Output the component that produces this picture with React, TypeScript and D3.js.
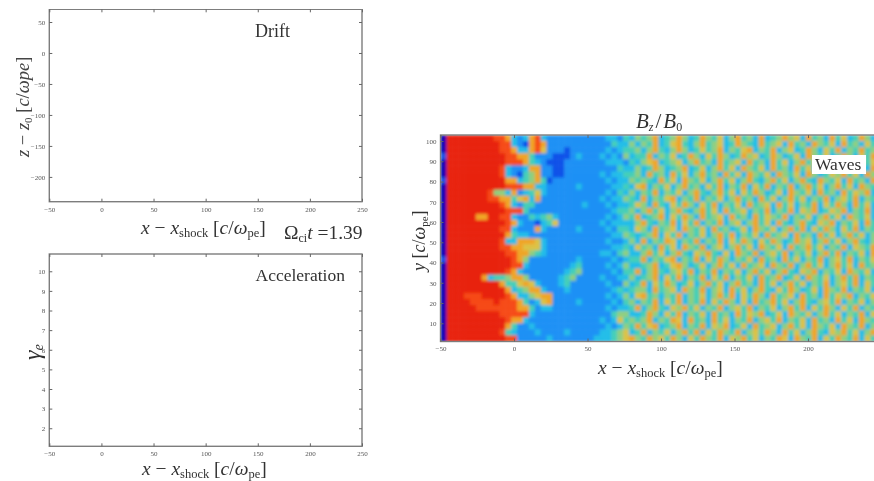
import React, { useEffect, useRef } from "react";
import * as d3 from "d3";

const width = 874;
const height = 481;

const xTicks = [-50, 0, 50, 100, 150, 200, 250];
const driftTicks = [50, 0, -50, -100, -150, -200];
const accelTicks = [10, 9, 8, 7, 6, 5, 4, 3, 2];
const waveXTicks = [-50, 0, 50, 100, 150, 200];
const waveYTicks = [100, 90, 80, 70, 60, 50, 40, 30, 20, 10];

const bzLeft = [
  "09999999988732378322222222",
  "09999999998832178722222222",
  "09999999998873378622212222",
  "19999999999887742221112322",
  "09999999999888743211122222",
  "09999999998322377221122222",
  "09999999998321457221122222",
  "19999999999773457412222222",
  "09999999999888773322222322",
  "09999999855372346322222222",
  "09999999887746737222222222",
  "09999999998732442222222232",
  "09999999999888422222222222",
  "09999977998832243453222222",
  "09999999999873221346222222",
  "09999999998832227322222322",
  "09999999999743322222222222",
  "09999999998337776322222222",
  "09999999998877666322222222",
  "09999999999887754322222222",
  "19999999999987522222222322",
  "09999999999988322222223422",
  "09999999999873222222234522",
  "09999997344577522222345222",
  "09999999997446763222342222",
  "09999999999734577322232222",
  "09998889999873356772222222",
  "09999888898887423672222322",
  "09999988888887742332222222",
  "09999999998888832222222222",
  "09999999999877322222222222",
  "09999999999742232222222222",
  "09999999998432223222232222",
  "09999999999882222232222222",
];
const bzRight = [
  "22332435457345753475463574537345756374537463475364",
  "22243353547346743574563475437456374537546374536475",
  "22323445357435753464573546735473563475364735474563",
  "23232534473546347536475347563475346375463475364753",
  "22333243567345635745374563745374635746375463574637",
  "22224335347534573463574637546374537463745376453746",
  "23233445374537463574537463754637546375346574637543",
  "22323354543746375463574635743574635743754637453764",
  "22233436735463574536473547364735473574635746375436",
  "22324353547354635743574636475346375463745374657354",
  "23233543735467354735463574537463574635473564735463",
  "22323346537436475364735463745637463547364753746354",
  "22234453574635743574637456354735473657346573547364",
  "22323547345736475374563745374654735463574637546375",
  "23233335743547364735473563574637435743657354637453",
  "22324436537456375463745346375463574736475364735476",
  "22233543457364735463574735463745637453746357463547",
  "22322353735476354735473647536475347563574635743564",
  "22233436453746375473563574637546374574635473654735",
  "23324533574635743657436375473564735463574735463745",
  "22232344735467354736475354637453746354735647354637",
  "22323533457346753463574637456375473574635746374563",
  "22232447357435647354735463574635743657354637546374",
  "23223353457364735473647354637457346375463574735463",
  "22322534736475346357463574537463574635473564736475",
  "22234345537456375473563746357436475346375473546375",
  "22323536745354735463574736475374563745374657354637",
  "22232453547364735473647536374574635743564735463574",
  "22323347357436574635473564735463574736475364735473",
  "22245533475364735463745374657346375463574635473657",
  "23236454573547637453746354735647354637453746375463",
  "22323547467345735473657346374563574637546375473564",
  "23345634735463574736475473564753746357436574635743",
  "33345675475647536475473657463547637547364754736475",
];

const bzColor = d3
  .scaleLinear<string>()
  .domain([0, 1, 2, 3, 4, 5, 6, 7, 8, 9])
  .range(["#0000b4", "#0a50e8", "#1a90f5", "#20bde8", "#45cfb8", "#8fcf80", "#dcc244", "#f0a526", "#f64a12", "#e8200f"]);

// axes, same frame style on all three panels
const drawFrame = (g, x, y, xT, yT) => {
  const [x0, x1] = x.range();
  const [y0, y1] = y.range();
  g.append("rect")
    .attr("x", x0)
    .attr("y", y1)
    .attr("width", x1 - x0)
    .attr("height", y0 - y1)
    .attr("fill", "none")
    .attr("stroke", "#7d7d7d")
    .attr("stroke-width", 1.4);
  const style = (a) => {
    a.select(".domain").remove();
    a.selectAll("line").attr("stroke", "#666");
    a.selectAll("text").attr("fill", "#555").attr("font-size", 7).attr("font-family", "'Liberation Serif', serif");
  };
  g.append("g").attr("transform", `translate(0,${y0})`)
    .call(d3.axisBottom(x).tickValues(xT).tickSize(-3).tickPadding(5).tickFormat(d3.format("d")))
    .call(style);
  g.append("g").attr("transform", `translate(0,${y1})`)
    .call(d3.axisTop(x).tickValues(xT).tickSize(-3).tickFormat(() => ""))
    .call(style);
  g.append("g").attr("transform", `translate(${x0},0)`)
    .call(d3.axisLeft(y).tickValues(yT).tickSize(-3).tickPadding(4).tickFormat(d3.format("d")))
    .call(style);
  g.append("g").attr("transform", `translate(${x1},0)`)
    .call(d3.axisRight(y).tickValues(yT).tickSize(-3).tickFormat(() => ""))
    .call(style);
};

const serif = "'Liberation Serif', serif";

const XLabel = ({ x, y }) => (
  <text x={x} y={y} fontFamily={serif} fontSize={19.5} fill="#333">
    <tspan fontStyle="italic">x</tspan> − <tspan fontStyle="italic">x</tspan>
    <tspan fontSize={12.5} dy={3}>shock</tspan>
    <tspan dy={-3}> [</tspan>
    <tspan fontStyle="italic">c</tspan>/<tspan fontStyle="italic">ω</tspan>
    <tspan fontSize={12.5} dy={3}>pe</tspan>
    <tspan dy={-3}>]</tspan>
  </text>
);

const App = () => {
  const chart = useRef(null);
  useEffect(() => {
    const svg = d3.select(chart.current);
    svg.selectAll("g.plot").remove();

    const x1 = d3.scaleLinear().domain([-50, 250]).range([49.3, 362]);
    const yDrift = d3.scaleLinear().domain([-240, 70.5]).range([201.7, 9.3]);
    const yAccel = d3.scaleLinear().domain([1.08, 10.88]).range([446.3, 254]);
    const xWave = d3.scaleLinear().domain([-50, 250]).range([440.5, 881.5]);
    const yWave = d3.scaleLinear().domain([1, 103]).range([341.5, 135]);

    const plot = svg.insert("g", ":first-child").attr("class", "plot").attr("filter", "url(#soft)");
    drawFrame(plot.append("g"), x1, yDrift, xTicks, driftTicks);
    drawFrame(plot.append("g"), x1, yAccel, xTicks, accelTicks);

    const rows = bzLeft.map((l, i) => l + bzRight[i]);
    const nCols = d3.min(rows, (r) => r.length);
    const col = d3.scaleBand().domain(d3.range(nCols)).range([xWave(-50), xWave(-50) + nCols * 5.89]);
    const row = d3.scaleBand().domain(d3.range(rows.length)).range([yWave(103), yWave(1)]);

    const cells = rows.flatMap((r, j) => r.slice(0, nCols).split("").map((v, i) => ({ i, j, v: +v })));
    const heat = plot.append("g").attr("filter", "url(#heat)");
    heat.selectAll("rect")
      .data(cells)
      .join("rect")
      .attr("x", (d) => col(d.i))
      .attr("y", (d) => row(d.j))
      .attr("width", col.bandwidth() + 0.5)
      .attr("height", row.bandwidth() + 0.5)
      .attr("fill", (d) => bzColor(d.v));

    drawFrame(plot.append("g"), xWave, yWave, waveXTicks, waveYTicks);
  }, []);

  return (
    <svg
      ref={chart}
      width={width}
      height={height}
      viewBox={`0 0 ${width} ${height}`}
      style={{ position: "absolute", left: 0, top: 0, background: "#fff" }}
    >
      <defs>
        <filter id="soft" x="0" y="0" width="100%" height="100%">
          <feGaussianBlur stdDeviation="0.45" />
        </filter>
        <filter id="heat" x="0" y="0" width="100%" height="100%">
          <feGaussianBlur stdDeviation="1.5" edgeMode="duplicate" />
        </filter>
      </defs>
      <g filter="url(#soft)">
        <text x={255} y={37} fontFamily={serif} fontSize={18} fill="#333">Drift</text>
        <text x={255.5} y={281} fontFamily={serif} fontSize={17.5} fill="#333">Acceleration</text>
        <XLabel x={141} y={234} />
        <XLabel x={142} y={475} />
        <XLabel x={598} y={374} />
        <text x={284} y={239} fontFamily={serif} fontSize={19.5} fill="#333">
          Ω<tspan fontSize={12} dy={3}>ci</tspan>
          <tspan fontStyle="italic" dy={-3}>t</tspan> =1.39
        </text>
        <text transform="translate(29,157) rotate(-90)" fontFamily={serif} fontSize={18.5} fill="#444">
          <tspan fontStyle="italic">z</tspan> − <tspan fontStyle="italic">z</tspan>
          <tspan fontSize={11} dy={3}>0</tspan>
          <tspan dy={-3}> [</tspan>
          <tspan fontStyle="italic">c</tspan>/<tspan fontStyle="italic">ωpe</tspan>]
        </text>
        <text transform="translate(40,360) rotate(-90)" fontFamily={serif} fontSize={24} fill="#333">
          <tspan fontStyle="italic">γ</tspan>
          <tspan fontSize={14} dy={3} fontStyle="italic">e</tspan>
        </text>
        <text transform="translate(425,271) rotate(-90)" fontFamily={serif} fontSize={18} fill="#333">
          <tspan fontStyle="italic">y</tspan> [<tspan fontStyle="italic">c</tspan>/<tspan fontStyle="italic">ω</tspan>
          <tspan fontSize={11} dy={3}>pe</tspan>
          <tspan dy={-3}>]</tspan>
        </text>
        <text x={636} y={128} fontFamily={serif} fontSize={21} fill="#333">
          <tspan fontStyle="italic">B</tspan>
          <tspan fontSize={12} dy={3} fontStyle="italic">z</tspan>
          <tspan dy={-3} dx={2}>/</tspan>
          <tspan fontStyle="italic" dx={2}>B</tspan>
          <tspan fontSize={12} dy={3}>0</tspan>
        </text>
        <rect x={812} y={155} width={54} height={19} fill="#fff" />
        <text x={815} y={170} fontFamily={serif} fontSize={17.5} fill="#333">Waves</text>
      </g>
    </svg>
  );
};

export default App;
